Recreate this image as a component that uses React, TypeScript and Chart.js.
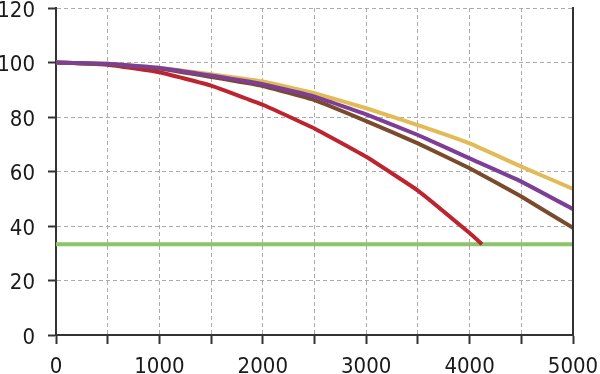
import React, { useEffect, useRef } from "react";
import { Chart, registerables } from "chart.js";

Chart.register(...registerables);

const xValues = [0, 500, 1000, 1500, 2000, 2500, 3000, 3500, 4000, 4500, 5000];
const yellowValues = [100, 99.5, 98.1, 95.7, 93.0, 88.7, 83.2, 77.0, 70.3, 61.8, 53.6];
const purpleValues = [100, 99.5, 98.0, 95.2, 92.0, 87.5, 81.0, 73.4, 64.8, 56.3, 46.2];
const brownValues = [100, 99.4, 97.8, 94.7, 91.4, 86.2, 78.5, 70.3, 61.2, 50.8, 39.3];
const redX = [0, 500, 1000, 1500, 2000, 2500, 3000, 3500, 4000, 4120];
const redValues = [100, 99.2, 96.4, 91.5, 84.5, 75.8, 65.4, 53.0, 37.4, 33.3];
const greenX = [0, 5000];
const greenValues = [33.3, 33.3];
const yTicks = [0, 20, 40, 60, 80, 100, 120];

const FONT = "'DejaVu Sans Condensed', 'Liberation Sans Narrow', 'DejaVu Sans', sans-serif";
const FONT_SIZE = 22;
const TEXT_COLOR = "#1a1a1a";

const rightBorder = {
  id: "rightBorder",
  afterDraw(chart: any) {
    const { ctx, chartArea } = chart;
    ctx.save();
    ctx.strokeStyle = "#333333";
    ctx.lineWidth = 2;
    ctx.beginPath();
    ctx.moveTo(chartArea.right, chartArea.top - 1);
    ctx.lineTo(chartArea.right, chartArea.bottom);
    ctx.stroke();
    ctx.restore();
  },
};

const yLabels = {
  id: "yLabels",
  afterDraw(chart: any) {
    const { ctx } = chart;
    const ys = chart.scales.y;
    ctx.save();
    ctx.font = `${FONT_SIZE}px ${FONT}`;
    ctx.fillStyle = TEXT_COLOR;
    ctx.textAlign = "right";
    ctx.textBaseline = "middle";
    yTicks.forEach((v) => {
      ctx.fillText(String(v), ys.right - 21, ys.getPixelForValue(v) + 3);
    });
    ctx.restore();
  },
};

function pts(xs: number[], ys: number[]) {
  return xs.map((x, i) => ({ x, y: ys[i] }));
}

export default function App() {
  const ref = useRef<HTMLCanvasElement | null>(null);
  useEffect(() => {
    if (!ref.current) return;
    const line = (label: string, data: any, color: string, width = 4) => ({
      label,
      data,
      borderColor: color,
      backgroundColor: color,
      borderWidth: width,
      pointRadius: 0,
      tension: 0.1,
      fill: false,
    });
    const chart = new Chart(ref.current, {
      type: "line",
      data: {
        datasets: [
          line("purple", pts(xValues, purpleValues), "#7d3f96"),
          line("brown", pts(xValues, brownValues), "#7a4a2c"),
          line("yellow", pts(xValues, yellowValues), "#e2ba57"),
          line("red", pts(redX, redValues), "#bc2530"),
          line("green", pts(greenX, greenValues), "#8cc46a", 4),
        ],
      },
      plugins: [rightBorder, yLabels],
      options: {
        animation: false,
        responsive: false,
        events: [],
        layout: { padding: { top: 8, right: 27, left: 0, bottom: 0 } },
        plugins: { legend: { display: false }, tooltip: { enabled: false } },
        scales: {
          x: {
            type: "linear",
            min: 0,
            max: 5000,
            afterBuildTicks: (s: any) => {
              s.ticks = xValues.map((v) => ({ value: v }));
            },
            afterFit: (s: any) => {
              s.height = 39;
              s.paddingLeft = 0;
              s.paddingRight = 0;
            },
            ticks: {
              autoSkip: false,
              maxRotation: 0,
              padding: 10,
              color: TEXT_COLOR,
              font: { family: FONT, size: FONT_SIZE },
              callback: (v: any) => (Number(v) % 1000 === 0 ? String(v) : ""),
            },
            grid: {
              color: "#ababab",
              lineWidth: 1,
              tickLength: 9,
              tickColor: "#333333",
              tickWidth: 2,
              tickBorderDash: [],
            },
            border: { display: true, color: "#333333", width: 2, dash: [4, 3] },
          },
          y: {
            min: 0,
            max: 120,
            afterBuildTicks: (s: any) => {
              s.ticks = yTicks.map((v) => ({ value: v }));
            },
            afterFit: (s: any) => {
              s.width = 56;
              s.paddingTop = 0;
              s.paddingBottom = 0;
            },
            ticks: { display: false },
            grid: {
              color: "#ababab",
              lineWidth: 1,
              tickLength: 8,
              tickColor: "#333333",
              tickWidth: 2,
              tickBorderDash: [],
            },
            border: { display: true, color: "#333333", width: 2, dash: [4, 3] },
          },
        },
      } as any,
    });
    return () => chart.destroy();
  }, []);
  return (
    <div style={{ position: "fixed", left: 0, top: 0, width: 600, height: 374, background: "#fff" }}>
      <canvas ref={ref} width={600} height={374} style={{ display: "block" }} />
    </div>
  );
}
